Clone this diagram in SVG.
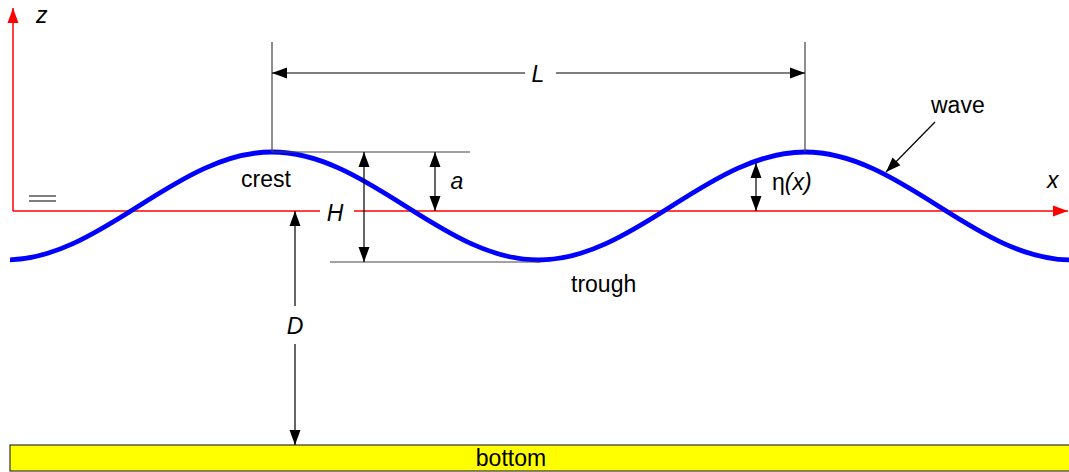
<svg xmlns="http://www.w3.org/2000/svg" width="1069" height="472" viewBox="0 0 1069 472">
<style>
text{font-family:"Liberation Sans",Arial,sans-serif;font-size:23px;fill:#000}
.it{font-style:italic}
.axis{stroke:#ff0000;stroke-width:1.5;fill:none}
.dim{stroke:#000;stroke-width:1.2;fill:none}
.ext{stroke:#444;stroke-width:1.2;fill:none}
.wave{stroke:#0000ff;stroke-width:4.8;fill:none}
</style>
<defs>
<marker id="ah" markerUnits="userSpaceOnUse" markerWidth="16" markerHeight="12" refX="15" refY="5.5" orient="auto-start-reverse" viewBox="0 0 16 11">
<path d="M0,0 L15,5.5 L0,11 Z" fill="#000"/>
</marker>
<marker id="ahr" markerUnits="userSpaceOnUse" markerWidth="16" markerHeight="12" refX="15" refY="5.5" orient="auto" viewBox="0 0 16 11">
<path d="M0,0 L15,5.5 L0,11 Z" fill="#ff0000"/>
</marker>
<clipPath id="clipw"><rect x="10" y="0" width="1059" height="472"/></clipPath>
</defs>
<g id="bottom">
<rect x="10" y="445" width="1065" height="26" fill="#ffff00" stroke="#333" stroke-width="1.2"/>
<text x="511" y="466" text-anchor="middle">bottom</text>
</g>
<g id="axes">
<path class="axis" d="M13,211 L13,8" marker-end="url(#ahr)"/>
<path class="axis" d="M13,211 L320,211"/>
<path class="axis" d="M354,211 L1068,211" marker-end="url(#ahr)"/>
<text class="it" x="36" y="23">z</text>
<text class="it" x="1047" y="188">x</text>
<path d="M29,196 L56,196 M29,201 L56,201" stroke="#555" stroke-width="1.5"/>
</g>
<g id="wave">
<path class="wave" clip-path="url(#clipw)" d="M5.5,260 C52.17,260 94.21,234.36 138.75,206 S225.33,152 272,152 S360.71,177.64 405.25,206 S491.83,260 538.5,260 S627.21,234.36 671.75,206 S758.33,152 805,152 S893.71,177.64 938.25,206 S1024.83,260 1071.5,260"/>
</g>
<g id="connectors">
<path class="ext" d="M272,42 L272,152 M805,42 L805,152"/>
<path class="ext" d="M272,152 L470,152"/>
<path class="ext" d="M330,262 L540,262"/>
<path class="dim" d="M538,73 L272,73" marker-end="url(#ah)"/>
<path class="dim" d="M538,73 L805,73" marker-end="url(#ah)"/>
<path class="dim" d="M364,152 L364,262" marker-start="url(#ah)" marker-end="url(#ah)"/>
<path class="dim" d="M435,152 L435,211" marker-start="url(#ah)" marker-end="url(#ah)"/>
<path class="dim" d="M756,163 L756,211" marker-start="url(#ah)" marker-end="url(#ah)"/>
<path class="dim" d="M295,211 L295,445" marker-start="url(#ah)" marker-end="url(#ah)"/>
<path class="dim" d="M935,122 L886,172" marker-end="url(#ah)"/>
</g>
<g id="labels">
<rect x="525" y="60" width="31" height="26" fill="#fff"/>
<text class="it" x="538" y="82" text-anchor="middle">L</text>
<rect x="285" y="306" width="20" height="38" fill="#fff"/>
<text class="it" x="295" y="334" text-anchor="middle">D</text>
<text class="it" x="335" y="221" text-anchor="middle">H</text>
<text class="it" x="457" y="189" text-anchor="middle">a</text>
<text x="772" y="190">η<tspan class="it">(x)</tspan></text>
<text x="241" y="187">crest</text>
<text x="571" y="292">trough</text>
<text x="931" y="113">wave</text>
</g>
</svg>
